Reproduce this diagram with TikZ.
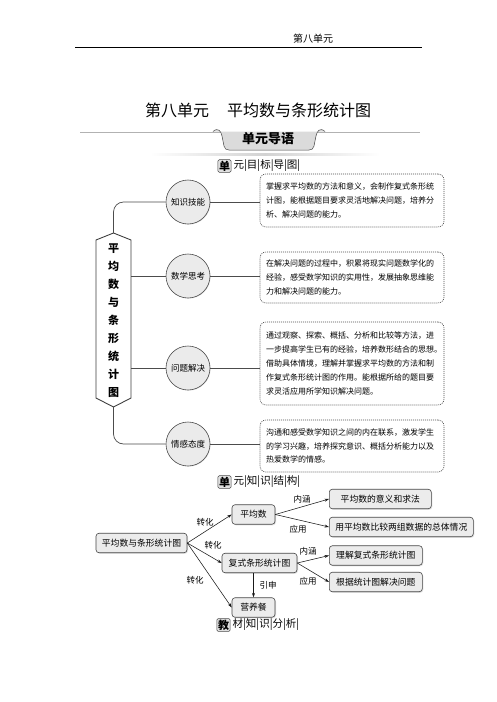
\documentclass[tikz,border=0pt]{standalone}
\usepackage{fontspec}
\setmainfont{Noto Sans CJK SC}
\usetikzlibrary{shadows,arrows.meta,calc}
\begin{document}
\begin{tikzpicture}[x=1pt,y=-1pt,
  conn/.style={draw=gray!60!black, line width=0.7pt},
  circ/.style={circle, draw=gray!60!black, fill=gray!16, line width=0.6pt, minimum size=44pt, inner sep=0pt, font=\fontsize{8.5}{10}\selectfont, drop shadow={shadow xshift=0.6pt, shadow yshift=-0.6pt, fill=gray!50}},
  tbox/.style={draw=gray!60!black, dash pattern=on 1pt off 1pt, rounded corners=6pt, line width=0.6pt, fill=white, minimum width=184pt, text width=172pt, inner xsep=6pt, inner ysep=0pt, align=left, font=\fontsize{8}{13.8}\selectfont},
  sbox/.style={draw=gray!55!black, fill=gray!15, rounded corners=3pt, line width=0.6pt, inner xsep=4pt, inner ysep=0pt, minimum height=19.5pt, font=\fontsize{8.8}{10}\selectfont, drop shadow={shadow xshift=1pt, shadow yshift=-1pt, fill=gray!45}},
  arr/.style={draw=gray!20!black, line width=0.55pt, -{Stealth[length=4.5pt,width=3pt]}},
  lab/.style={font=\fontsize{8.5}{10}\selectfont, inner sep=0pt},
  secbox/.style={draw=gray!60!black, fill=gray!25, rounded corners=1.5pt, line width=0.5pt, inner sep=1.2pt, font=\bfseries\fontsize{11}{12}\selectfont},
  sectxt/.style={anchor=west, inner xsep=2pt, inner ysep=1pt, font=\fontsize{10.5}{12}\selectfont}
]
\useasboundingbox (0,0) rectangle (496,702);
\fill[white] (0,0) rectangle (496,702);

% page header
\node[font=\fontsize{10}{12}\selectfont, inner sep=0pt] (hdr) at (313,39) {第八单元};
\coordinate (hl) at (75,47);
\coordinate (hr) at (422,47);
\draw[line width=0.8pt] (hl) -- (hr);

% title
\node[font=\fontsize{16}{18}\selectfont, inner sep=0pt] (title) at (258,110) {第八单元\hspace{18pt}平均数与条形统计图};

% banner
\coordinate (bl) at (80,132);
\coordinate (br) at (420,132);
\draw[gray!60, line width=0.6pt] (bl) -- (br);
\draw[gray!60!black, fill=gray!28, line width=0.5pt] (213,131.5) .. controls (218,127) and (221,131) .. (222,136) -- (224,146) .. controls (225,149) and (226,150) .. (229,150) -- (309,150) .. controls (312,150) and (313,149) .. (314,146) -- (316,136) .. controls (317,131) and (320,127) .. (325,131.5);
\node[font=\bfseries\fontsize{13}{15}\selectfont, inner sep=0pt] (banner) at (268,139) {单元导语};
\shade[left color=white, right color=white, middle color=gray!35] (150,153.5) rectangle (380,155);

% section header 1
\node[secbox] (s1a) at (224.5,166) {单};
\node[sectxt] (s1b) at (s1a.east) {元|目|标|导|图|};

% hexagon
\coordinate (htop) at (113.5,233);
\coordinate (hbot) at (113.5,407);
\coordinate (hx2) at (131,276);
\coordinate (hx3) at (131,368);
\draw[draw=gray!50!black, fill=white, line width=0.9pt] (96,240) -- (htop) -- (131,240) -- (131,398) -- (hbot) -- (96,398) -- cycle;
\node[font=\bfseries\fontsize{11}{18}\selectfont, align=center, inner sep=0pt] (hextext) at (113.5,321) {平\\均\\数\\与\\条\\形\\统\\计\\图};

% circles
\node[circ] (c1) at (188,202) {知识技能};
\node[circ] (c2) at (188,276) {数学思考};
\node[circ] (c3) at (188,368) {问题解决};
\node[circ] (c4) at (188,444) {情感态度};

% boxes
\node[tbox, minimum height=53pt] (b1) at (352,200.5) {掌握求平均数的方法和意义，会制作复式条形统\\计图，能根据题目要求灵活地解决问题，培养分\\析、解决问题的能力。};
\node[tbox, minimum height=51pt] (b2) at (352,277.5) {在解决问题的过程中，积累将现实问题数学化的\\经验，感受数学知识的实用性，发展抽象思维能\\力和解决问题的能力。};
\node[tbox, minimum height=83pt] (b3) at (352,363.5) {通过观察、探索、概括、分析和比较等方法，进\\一步提高学生已有的经验，培养数形结合的思想。\\借助具体情境，理解并掌握求平均数的方法和制\\作复式条形统计图的作用。能根据所给的题目要\\求灵活应用所学知识解决问题。};
\node[tbox, minimum height=52pt] (b4) at (352,446) {沟通和感受数学知识之间的内在联系，激发学生\\的学习兴趣，培养探究意识、概括分析能力以及\\热爱数学的情感。};

% mind map connectors
\draw[conn, rounded corners=10pt] (htop) |- (c1);
\draw[conn] (hx2) -- (c2);
\draw[conn] (hx3) -- (c3);
\draw[conn, rounded corners=10pt] (hbot) |- (c4);
\draw[conn] (c1.east) -- (c1.east -| b1.west);
\draw[conn] (c2.east) -- (c2.east -| b2.west);
\draw[conn] (c3.east) -- (c3.east -| b3.west);
\draw[conn] (c4.east) -- (c4.east -| b4.west);

% section header 2
\node[secbox] (s2a) at (224.5,482) {单};
\node[sectxt] (s2b) at (s2a.east) {元|知|识|结|构|};

% structure diagram
\node[sbox, minimum width=91pt] (m) at (141.5,543) {平均数与条形统计图};
\node[sbox, minimum width=43pt] (p) at (253.5,514.5) {平均数};
\node[sbox, minimum width=75pt] (f) at (259.5,563) {复式条形统计图};
\node[sbox, minimum width=43pt] (yy) at (253.5,607.5) {营养餐};
\node[sbox, minimum width=102pt, anchor=west] (r1) at (329,499) {平均数的意义和求法};
\node[sbox, minimum width=144pt, anchor=west] (r2) at (329,527) {用平均数比较两组数据的总体情况};
\node[sbox, minimum width=93pt, anchor=west] (r3) at (329,555.5) {理解复式条形统计图};
\node[sbox, minimum width=93pt, anchor=west] (r4) at (329,582) {根据统计图解决问题};

\draw[arr] (m.east) -- (p.west);
\draw[arr] (m.east) -- (f.west);
\draw[arr] (m.east) -- (yy.west);
\draw[arr] (yy.north |- f.south) -- (yy.north);
\draw[arr] (p.east) -- (r1.west);
\draw[arr] (p.east) -- (r2.west);
\draw[arr] (f.east) -- (r3.west);
\draw[arr] (f.east) -- (r4.west);

\node[lab] (l1) at (205,522) {转化};
\node[lab] (l2) at (213,545) {转化};
\node[lab] (l3) at (195,580) {转化};
\node[lab] (l4) at (268,585) {引申};
\node[lab] (l5) at (302,499) {内涵};
\node[lab] (l6) at (298,529) {应用};
\node[lab] (l7) at (308,551) {内涵};
\node[lab] (l8) at (308,581) {应用};

% section header 3
\node[secbox] (s3a) at (223.5,625) {教};
\node[sectxt] (s3b) at (s3a.east) {材|知|识|分|析|};
\end{tikzpicture}
\end{document}
